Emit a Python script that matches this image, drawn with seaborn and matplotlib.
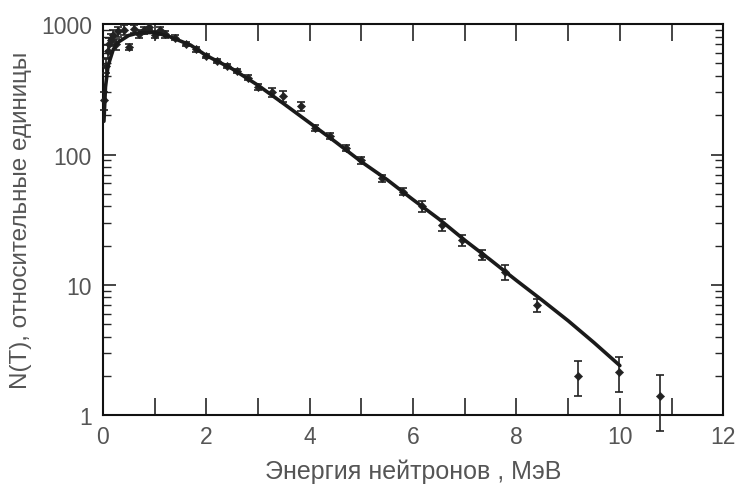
import numpy as np
import pandas as pd
import seaborn as sns
import matplotlib.pyplot as plt
from matplotlib.ticker import FixedLocator, LogLocator, NullFormatter

plt.switch_backend('Agg')

# Fitted spectrum curve
curve_e = [0.02, 0.05, 0.1, 0.2, 0.3, 0.5, 0.7, 1.0, 1.3, 1.7, 2.0, 2.5, 3.0, 3.5,
           4.0, 4.5, 5.0, 5.5, 6.0, 6.5, 7.0, 7.5, 8.0, 8.5, 9.0, 9.5, 10.0]
curve_n = [180, 330, 480, 640, 730, 820, 860, 865, 800, 690, 575, 455, 340, 245,
           175, 125, 88, 64, 45, 32, 22, 15.5, 10.8, 7.6, 5.3, 3.6, 2.4]

# Measured points with errors
exp_e = [0.03, 0.06, 0.09, 0.12, 0.15, 0.2, 0.25, 0.3, 0.4, 0.5, 0.6, 0.7, 0.8,
         0.9, 1.0, 1.1, 1.2, 1.4, 1.6, 1.8, 2.0, 2.2, 2.4, 2.6, 2.8, 3.0, 3.27,
         3.48, 3.84, 4.1, 4.4, 4.7, 5.0, 5.4, 5.8, 6.17, 6.55, 6.94, 7.33, 7.78,
         8.39, 9.19, 9.98, 10.78]
exp_n = [260, 480, 620, 700, 760, 820, 700, 880, 900, 670, 920, 840, 900,
         950, 830, 900, 840, 790, 700, 640, 570, 520, 480, 440, 390, 330, 300,
         280, 235, 160, 138, 112, 90, 66, 52, 40, 29, 22, 17, 12.5,
         7.0, 2.0, 2.15, 1.4]
exp_err = [40, 60, 70, 80, 80, 90, 70, 80, 80, 40, 60, 60, 60,
           50, 50, 50, 50, 30, 25, 25, 20, 20, 18, 15, 15, 15, 25,
           25, 20, 8, 7, 6, 5, 4, 3, 4, 3, 2, 1.5, 1.6,
           0.8, 0.6, 0.65, 0.65]

x_ticks = [0, 2, 4, 6, 8, 10, 12]
y_ticks = [1, 10, 100, 1000]

curve = pd.DataFrame({'E': curve_e, 'N': curve_n})
points = pd.DataFrame({'E': exp_e, 'N': exp_n, 'err': exp_err})

sns.set_style('ticks')
plt.rcParams['font.family'] = ['Liberation Sans', 'DejaVu Sans']

fig = plt.figure(figsize=(7.35, 4.85), dpi=100)
ax = fig.add_axes([0.140, 0.142, 0.844, 0.806])

ax.errorbar(points['E'], points['N'], yerr=points['err'], fmt='none',
            ecolor='#222222', elinewidth=1.2, capsize=3, capthick=1.2,
            clip_on=False, zorder=3)
sns.scatterplot(data=points, x='E', y='N', ax=ax, marker='D', s=18,
                color='#222222', edgecolor='#222222', zorder=4, clip_on=False)
sns.lineplot(data=curve, x='E', y='N', ax=ax, color='#1a1a1a', linewidth=2.6,
             zorder=5)

ax.set_yscale('log')
ax.set_xlim(0, 12)
ax.set_ylim(1, 1000)

ax.xaxis.set_major_locator(FixedLocator(x_ticks))
ax.xaxis.set_minor_locator(FixedLocator([1, 3, 5, 7, 9, 11]))
ax.yaxis.set_major_locator(FixedLocator(y_ticks))
ax.yaxis.set_minor_locator(LogLocator(base=10, subs=np.arange(2, 10)))
ax.yaxis.set_minor_formatter(NullFormatter())
ax.set_xticklabels([str(t) for t in x_ticks])
ax.set_yticklabels([str(t) for t in y_ticks])

ax.tick_params(axis='x', which='both', direction='in', length=12, width=1.2,
               top=True, bottom=True, labelsize=16.5, labelcolor='#555555', pad=7)
ax.tick_params(axis='y', which='major', direction='in', length=9, width=1.2,
               left=True, right=True, labelsize=16.5, labelcolor='#555555', pad=8)
ax.tick_params(axis='y', which='minor', direction='in', length=6, width=1.0,
               left=True, right=True)

for s in ax.spines.values():
    s.set_linewidth(1.5)
    s.set_color('#111111')
    s.set_visible(True)

ax.set_xlabel('Энергия нейтронов , МэВ', fontsize=18, color='#555555', labelpad=8)
ax.set_ylabel('N(T), относительные единицы', fontsize=17.5, color='#555555', labelpad=6)

fig.savefig('out.png', dpi=100)
plt.close(fig)
